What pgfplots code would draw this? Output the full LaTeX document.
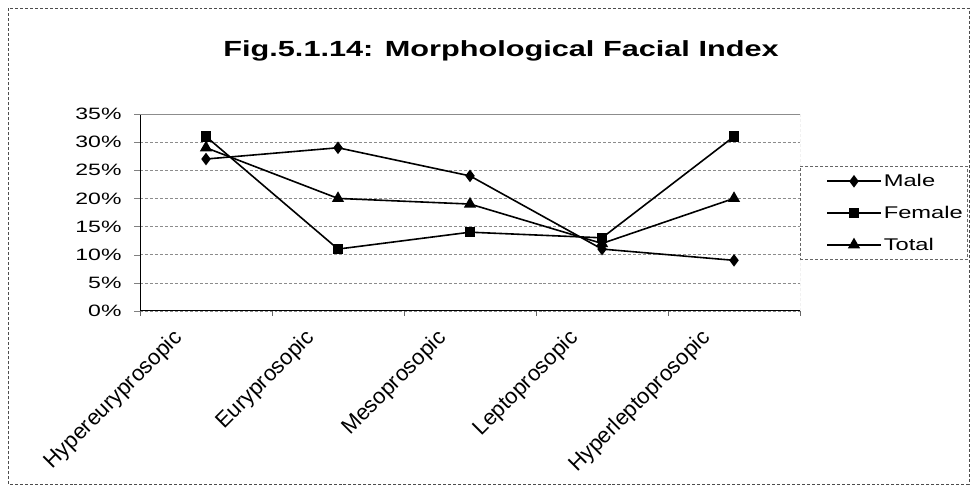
\documentclass[border=0pt]{standalone}
\usepackage{pgfplots}
\pgfplotsset{compat=1.18}
\usepackage{fontspec}
\setmainfont[FakeStretch=1.4]{Liberation Sans}
\newfontfamily\plainfont{Liberation Sans}
\begin{document}
\begin{tikzpicture}[x=1bp,y=1bp]
\useasboundingbox (0,0) rectangle (972,487);
\draw[black!70, densely dashed, line width=0.8bp] (8,3) rectangle (969,479);
\node[font=\bfseries\fontsize{22}{26}\selectfont] at (501,436) {Fig.5.1.14: Morphological Facial Index};
\begin{axis}[
  at={(140bp,176bp)}, anchor=south west,
  scale only axis, width=660bp, height=197bp,
  xmin=-0.5, xmax=4.5, ymin=0, ymax=35,
  xtick={0,1,2,3,4},
  xticklabels={Hypereuryprosopic,Euryprosopic,Mesoprosopic,Leptoprosopic,Hyperleptoprosopic},
  major x tick style={draw=none},
  minor xtick={-0.5,0.5,1.5,2.5,3.5,4.5},
  minor x tick style={black!60},
  ytick={0,5,...,35},
  yticklabel={\pgfmathprintnumber{\tick}\%},
  /pgf/number format/assume math mode=true,
  axis x line*=bottom, axis y line*=left,
  axis line style={black, line width=1bp},
  tick align=outside, major tick length=6bp, minor tick length=5bp,
  ymajorgrids, major grid style={black!45, densely dashed, line width=0.6bp},
  yticklabel style={font=\fontsize{16.5}{18}\selectfont, xshift=-9bp},
  xticklabel style={font=\plainfont\fontsize{22}{24}\selectfont, xshift=-23bp, yshift=-22bp, rotate=45, anchor=base east, inner sep=0bp},
  legend style={at={(rel axis cs:1,0.735)}, anchor=north west, draw=black!60, densely dashed,
    font=\fontsize{17}{19}\selectfont, row sep=14bp, inner xsep=2bp, inner ysep=6bp, legend cell align=left},
  legend image code/.code={\path (0bp,0bp); \draw[#1, solid] (24bp,0bp) -- (78bp,0bp); \draw[#1, solid] plot coordinates {(51bp,0bp)};},
  every axis plot/.append style={black, line width=1.6bp, mark options={solid, fill=black}},
]
\addplot[mark=diamond*, mark size=5bp] coordinates {(0,27) (1,29) (2,24) (3,11) (4,9)};
\addlegendentry{Male}
\addplot[mark=square*, mark size=4.5bp] coordinates {(0,31) (1,11) (2,14) (3,13) (4,31)};
\addlegendentry{Female}
\addplot[mark=triangle*, mark size=5.5bp] coordinates {(0,29) (1,20) (2,19) (3,12) (4,20)};
\addlegendentry{Total}
\draw[black!45, densely dashed, line width=0.6bp] (rel axis cs:1,0) -- (rel axis cs:1,1) -- (rel axis cs:0,1);
\end{axis}
\end{tikzpicture}
\end{document}
